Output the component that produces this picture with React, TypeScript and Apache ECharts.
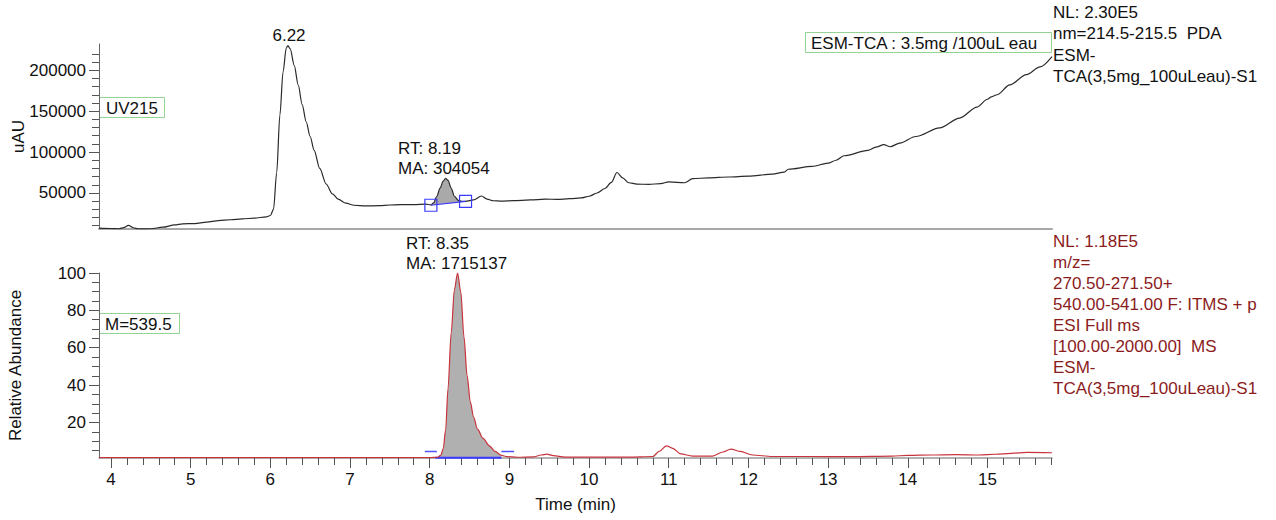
import React, { useEffect, useRef } from "react";
import * as echarts from "echarts";

// ---------- axis ranges / ticks ----------
const X_MIN = 3.85;
const X_MAX = 15.81;
const xMajorTicks = [4, 5, 6, 7, 8, 9, 10, 11, 12, 13, 14, 15];
const topYMin = 6000;
const topYMax = 232000;
const topMajorTicks = [50000, 100000, 150000, 200000];
const botYMin = 1;
const botYMax = 100;
const botMajorTicks = [20, 40, 60, 80, 100];

function stepList(from: number, to: number, step: number): number[] {
  const out: number[] = [];
  for (let v = from; v <= to + 1e-9; v += step) out.push(Math.round(v * 1000) / 1000);
  return out;
}
const xMinorTicks = stepList(4, 15.8, 0.2);
const topMinorTicks = stepList(10000, 220000, 10000);
const botMinorTicks = stepList(5, 100, 5);

// ---------- UV215 trace (top) ----------
const topTimes = [
  3.85, 4.0, 4.1, 4.16, 4.22, 4.28, 4.35, 4.5, 4.65, 4.8, 4.9, 5.05, 5.2, 5.35, 5.5, 5.65, 5.8, 5.95,
  6.0, 6.04, 6.08, 6.12, 6.16, 6.2, 6.22, 6.25, 6.3, 6.35, 6.4, 6.45, 6.5, 6.55, 6.62, 6.7, 6.78,
  6.85, 6.95, 7.05, 7.2, 7.37, 7.5, 7.63, 7.8, 7.95, 8.015, 8.05, 8.09, 8.13, 8.17, 8.2, 8.23, 8.27,
  8.31, 8.36, 8.4, 8.45, 8.55, 8.65, 8.72, 8.8, 8.9, 9.05, 9.26, 9.45, 9.6, 9.76, 9.9, 10.0, 10.1,
  10.2, 10.28, 10.35, 10.42, 10.5, 10.6, 10.75, 10.9, 11.0, 11.2, 11.3, 11.5, 11.75, 12.0, 12.3,
  12.45, 12.5, 12.8, 13.0, 13.1, 13.2, 13.5, 13.6, 13.7, 13.78, 13.9, 14.1, 14.4, 14.65, 14.87,
  15.0, 15.05, 15.12, 15.28, 15.49, 15.66, 15.81,
];
const topValues = [
  7000, 6600, 6300, 7800, 10500, 7500, 6200, 6300, 8200, 11000, 12300, 12600, 14500, 16300, 17300,
  18400, 19300, 20800, 22500, 30000, 75000, 145000, 198000, 227000, 230000, 226000, 206000, 182000,
  158000, 137000, 119000, 102000, 80000, 61000, 49000, 42500, 37500, 35000, 34200, 34500, 35300,
  35700, 35800, 36300, 35500, 38000, 46000, 56000, 64500, 68000, 65500, 56000, 46000, 41000, 39800,
  39700, 41500, 46300, 42500, 40500, 40000, 40600, 41500, 42500, 42200, 43000, 44000, 46000, 50000,
  55500, 63000, 75000, 68500, 62500, 60800, 60500, 61500, 63500, 62500, 67500, 68500, 69500, 70500,
  73000, 75500, 79000, 82500, 86500, 90000, 95500, 102000, 106000, 109000, 106500, 111000, 119000,
  129500, 141500, 155000, 164500, 167500, 170000, 182000, 194500, 204000, 216500,
];
// integrated peak RT 8.19 : baseline end points (blue squares)
const topPeakStart = [8.015, 35000];
const topPeakEnd = [8.45, 39700];

// ---------- M=539.5 trace (bottom) ----------
const botTimes = [
  3.85, 4.5, 5.5, 6.5, 7.5, 8.0, 8.1, 8.14, 8.17, 8.2, 8.23, 8.27, 8.31, 8.35, 8.39, 8.43, 8.47,
  8.51, 8.55, 8.6, 8.67, 8.75, 8.82, 8.9, 8.97, 9.1, 9.3, 9.4, 9.47, 9.55, 9.7, 10.0, 10.5, 10.8,
  10.88, 10.97, 11.05, 11.15, 11.3, 11.55, 11.68, 11.78, 11.9, 12.05, 12.3, 12.8, 13.3, 13.8, 14.0,
  14.3, 14.6, 14.9, 15.1, 15.3, 15.5, 15.81,
];
const botValues = [
  1.2, 1.2, 1.2, 1.2, 1.2, 1.2, 1.4, 2.5, 6, 16, 38, 68, 91, 100, 90, 66, 45, 31, 23, 16.5, 11.5, 7.5,
  4.5, 2.4, 1.7, 1.4, 1.6, 2.6, 3.1, 2.3, 1.5, 1.5, 1.5, 1.8, 4.5, 7.5, 6.2, 3.2, 2.0, 2.0, 4.2, 5.8,
  4.5, 2.6, 1.8, 1.8, 1.7, 2.0, 2.4, 2.6, 2.8, 2.6, 3.0, 3.5, 4.0, 3.8,
];
const botPeakStart = 8.07;
const botPeakEnd = 8.9;
const botBaseline = 1.1;
const botMarkLevel = 4.5;
const botMarkLeft = [7.94, 8.09];
const botMarkRight = [8.9, 9.06];

// ---------- texts ----------
const topRightInfo = ["NL: 2.30E5", "nm=214.5-215.5  PDA", "ESM-", "TCA(3,5mg_100uLeau)-S1"];
const botRightInfo = [
  "NL: 1.18E5",
  "m/z=",
  "270.50-271.50+",
  "540.00-541.00 F: ITMS + p",
  "ESI Full ms",
  "[100.00-2000.00]  MS",
  "ESM-",
  "TCA(3,5mg_100uLeau)-S1",
];

const FONT_FAMILY = "'Liberation Sans', Arial, Helvetica, sans-serif";
const FONT = `17px ${FONT_FAMILY}`;

export default function App() {
  const ref = useRef<HTMLDivElement>(null);

  useEffect(() => {
    if (!ref.current) return;
    const chart = echarts.init(ref.current, null, { renderer: "svg" });

    const topData = topTimes.map((t, i) => [t, topValues[i]]);
    const botData = botTimes.map((t, i) => [t, botValues[i]]);

    const peakPts = topData.filter((p) => p[0] >= topPeakStart[0] - 1e-9 && p[0] <= topPeakEnd[0] + 1e-9);
    const topFillPoly = [...peakPts, topPeakEnd, topPeakStart];

    const botFill = botData.filter((p) => p[0] >= botPeakStart - 1e-9 && p[0] <= botPeakEnd + 1e-9);

    const labelStyle = { fontSize: 17, fontFamily: FONT_FAMILY, color: "#111" };
    const plain = (v: number) => String(v);

    const option: any = {
      animation: false,
      backgroundColor: "#ffffff",
      grid: [
        { left: 99, top: 44, width: 953, height: 185, containLabel: false, outerBoundsMode: "none" },
        { left: 99, top: 273, width: 953, height: 185, containLabel: false, outerBoundsMode: "none" },
      ],
      xAxis: [
        {
          gridIndex: 0,
          type: "value",
          min: X_MIN,
          max: X_MAX,
          position: "bottom",
          axisLine: { show: true, onZero: false, lineStyle: { color: "#a8a8a8", width: 2 } },
          axisTick: { show: false },
          axisLabel: { show: false },
          splitLine: { show: false },
        },
        {
          gridIndex: 1,
          type: "value",
          min: X_MIN,
          max: X_MAX,
          position: "bottom",
          axisLine: { show: true, onZero: false, lineStyle: { color: "#999", width: 1.5 } },
          axisTick: { show: true, length: 10, customValues: xMajorTicks, lineStyle: { color: "#555", width: 1 } },
          axisLabel: { show: true, customValues: xMajorTicks, margin: 13, formatter: plain, ...labelStyle },
          splitLine: { show: false },
          name: "Time (min)",
          nameLocation: "middle",
          nameGap: 38,
          nameMoveOverlap: false,
          nameTextStyle: { ...labelStyle },
        },
        {
          gridIndex: 1,
          type: "value",
          min: X_MIN,
          max: X_MAX,
          position: "bottom",
          axisLine: { show: false, onZero: false },
          axisTick: { show: true, length: 7, customValues: xMinorTicks, lineStyle: { color: "#555", width: 1 } },
          axisLabel: { show: false },
          splitLine: { show: false },
        },
      ],
      yAxis: [
        {
          gridIndex: 0,
          type: "value",
          min: topYMin,
          max: topYMax,
          position: "left",
          axisLine: { show: true, onZero: false, lineStyle: { color: "#666", width: 1 } },
          axisTick: { show: true, length: 10, customValues: topMajorTicks, lineStyle: { color: "#555" } },
          axisLabel: { show: true, customValues: topMajorTicks, margin: 13, formatter: plain, ...labelStyle },
          splitLine: { show: false },
          name: "uAU",
          nameLocation: "middle",
          nameRotate: 90,
          nameGap: 72,
          nameMoveOverlap: false,
          nameTextStyle: { ...labelStyle },
        },
        {
          gridIndex: 0,
          type: "value",
          min: topYMin,
          max: topYMax,
          position: "left",
          axisLine: { show: false, onZero: false },
          axisTick: { show: true, length: 7, customValues: topMinorTicks, lineStyle: { color: "#555" } },
          axisLabel: { show: false },
          splitLine: { show: false },
        },
        {
          gridIndex: 1,
          type: "value",
          min: botYMin,
          max: botYMax,
          position: "left",
          axisLine: { show: true, onZero: false, lineStyle: { color: "#666", width: 1 } },
          axisTick: { show: true, length: 10, customValues: botMajorTicks, lineStyle: { color: "#555" } },
          axisLabel: { show: true, customValues: botMajorTicks, margin: 13, formatter: plain, ...labelStyle },
          splitLine: { show: false },
          name: "Relative Abundance",
          nameLocation: "middle",
          nameRotate: 90,
          nameGap: 75,
          nameMoveOverlap: false,
          nameTextStyle: { ...labelStyle },
        },
        {
          gridIndex: 1,
          type: "value",
          min: botYMin,
          max: botYMax,
          position: "left",
          axisLine: { show: false, onZero: false },
          axisTick: { show: true, length: 7, customValues: botMinorTicks, lineStyle: { color: "#555" } },
          axisLabel: { show: false },
          splitLine: { show: false },
        },
      ],
      series: [
        // top peak fill polygon (trace above the integration baseline)
        {
          type: "custom",
          xAxisIndex: 0,
          yAxisIndex: 0,
          data: [[topPeakStart[0], topPeakStart[1]]],
          silent: true,
          renderItem: (_params: any, api: any) => ({
            type: "polygon",
            shape: { points: topFillPoly.map((p) => api.coord(p)) },
            style: { fill: "#a9a9a9", stroke: "none" },
          }),
        },
        // top trace
        {
          type: "line",
          xAxisIndex: 0,
          yAxisIndex: 0,
          data: topData,
          symbol: "none",
          smooth: 0.3,
          smoothMonotone: "x",
          lineStyle: { color: "#2a2a2a", width: 1.2 },
          silent: true,
        },
        // blue baseline with square markers
        {
          type: "line",
          xAxisIndex: 0,
          yAxisIndex: 0,
          data: [topPeakStart, topPeakEnd],
          symbol: "rect",
          symbolSize: 12,
          showSymbol: true,
          itemStyle: { color: "rgba(0,0,0,0)", borderColor: "#3a3aff", borderWidth: 1.2 },
          lineStyle: { color: "#3a3aff", width: 1.2 },
          silent: true,
        },
        // bottom peak fill
        {
          type: "line",
          xAxisIndex: 1,
          yAxisIndex: 2,
          data: botFill,
          symbol: "none",
          smooth: 0.3,
          smoothMonotone: "x",
          lineStyle: { width: 0, opacity: 0 },
          areaStyle: { color: "#b0b0b0", opacity: 1, origin: "start" },
          silent: true,
        },
        {
          type: "line",
          xAxisIndex: 1,
          yAxisIndex: 2,
          data: [
            [botPeakStart, botBaseline],
            [botPeakEnd, botBaseline],
          ],
          symbol: "none",
          lineStyle: { color: "#3a3aff", width: 2 },
          silent: true,
        },
        {
          type: "line",
          xAxisIndex: 1,
          yAxisIndex: 2,
          data: botData,
          symbol: "none",
          smooth: 0.3,
          smoothMonotone: "x",
          lineStyle: { color: "#c8343c", width: 1.2 },
          silent: true,
        },
        {
          type: "line",
          xAxisIndex: 1,
          yAxisIndex: 2,
          data: botMarkLeft.map((t) => [t, botMarkLevel]),
          symbol: "none",
          lineStyle: { color: "#5050ff", width: 1.5 },
          silent: true,
        },
        {
          type: "line",
          xAxisIndex: 1,
          yAxisIndex: 2,
          data: botMarkRight.map((t) => [t, botMarkLevel]),
          symbol: "none",
          lineStyle: { color: "#5050ff", width: 1.5 },
          silent: true,
        },
      ],
      graphic: [
        { type: "text", x: 289, y: 35, style: { text: "6.22", font: FONT, fill: "#111", align: "center", verticalAlign: "middle" } },
        { type: "text", x: 398, y: 138, style: { text: "RT: 8.19\nMA: 304054", font: FONT, fill: "#111", lineHeight: 20, align: "left", verticalAlign: "top" } },
        { type: "text", x: 406, y: 233, style: { text: "RT: 8.35\nMA: 1715137", font: FONT, fill: "#111", lineHeight: 20, align: "left", verticalAlign: "top" } },
        { type: "rect", shape: { x: 99.5, y: 97.5, width: 65, height: 20 }, style: { fill: "#fff", stroke: "#93d393", lineWidth: 1 } },
        { type: "text", x: 106, y: 108, style: { text: "UV215", font: FONT, fill: "#111", align: "left", verticalAlign: "middle" } },
        { type: "rect", shape: { x: 99.5, y: 313.5, width: 80, height: 20 }, style: { fill: "#fff", stroke: "#93d393", lineWidth: 1 } },
        { type: "text", x: 105, y: 324, style: { text: "M=539.5", font: FONT, fill: "#111", align: "left", verticalAlign: "middle" } },
        { type: "rect", shape: { x: 805.5, y: 32.5, width: 246, height: 20 }, style: { fill: "#fff", stroke: "#93d393", lineWidth: 1 } },
        { type: "text", x: 811, y: 43, style: { text: "ESM-TCA : 3.5mg /100uL eau", font: FONT, fill: "#111", align: "left", verticalAlign: "middle" } },
        { type: "text", x: 1053, y: 2, style: { text: topRightInfo.join("\n"), font: FONT, fill: "#111", lineHeight: 21.3, align: "left", verticalAlign: "top" } },
        { type: "text", x: 1053, y: 231, style: { text: botRightInfo.join("\n"), font: FONT, fill: "#8b1c1c", lineHeight: 21, align: "left", verticalAlign: "top" } },
      ],
    };

    chart.setOption(option);
    return () => chart.dispose();
  }, []);

  return (
    <div
      ref={ref}
      style={{ position: "absolute", left: 0, top: 0, width: 1276, height: 520, background: "#fff" }}
    />
  );
}
